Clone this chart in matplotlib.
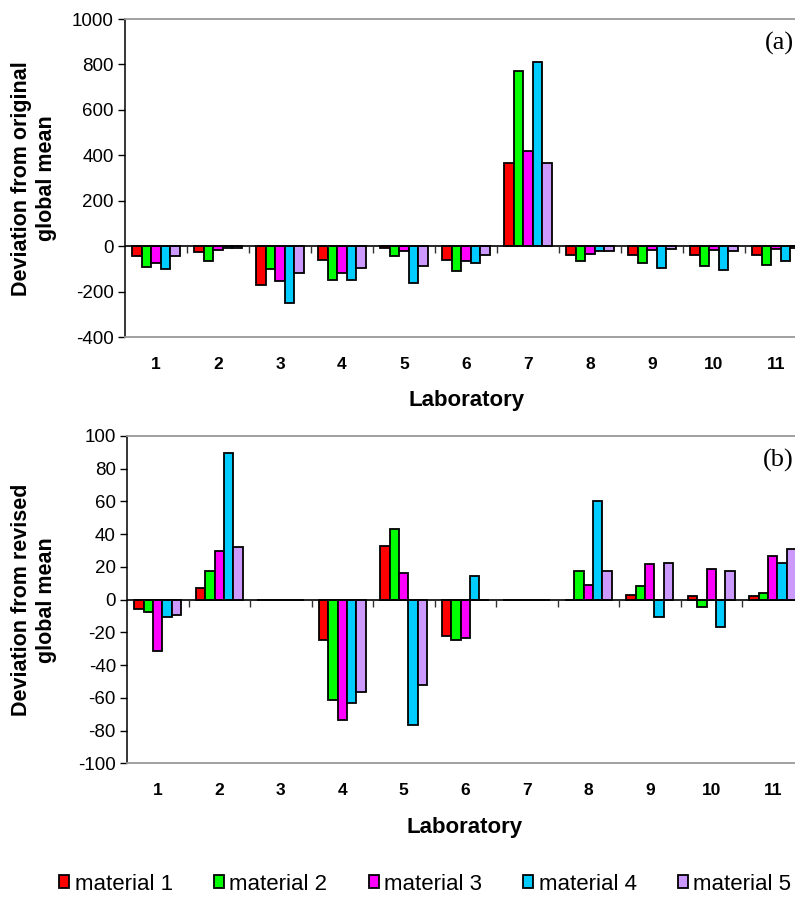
import numpy as np
import matplotlib
matplotlib.use("Agg")
import matplotlib.pyplot as plt

plt.rcParams['font.family'] = ['Liberation Sans', 'DejaVu Sans']
plt.rcParams['axes.unicode_minus'] = False

labs = [1, 2, 3, 4, 5, 6, 7, 8, 9, 10, 11]
materials = ["material 1", "material 2", "material 3", "material 4", "material 5"]
colors = ["#FF0000", "#00FF00", "#FF00FF", "#00CCFF", "#CC99FF"]

# (a) deviation from original global mean
orig_m1 = [-44, -26, -170, -59, -6, -59, 365, -37, -37, -37, -37]
orig_m2 = [-90, -65, -100, -146, -41, -110, 770, -66, -73, -88, -80]
orig_m3 = [-72, -15, -154, -117, -22, -66, 418, -32, -17, -17, -13]
orig_m4 = [-98, -6, -250, -146, -161, -73, 810, -22, -95, -102, -63]
orig_m5 = [-44, -6, -117, -95, -88, -37, 365, -19, -11, -22, -6]

# (b) deviation from revised global mean
rev_m1 = [-5.5, 6.9, 0, -24.8, 32.8, -22.0, 0, 0, 3.1, 2.0, 2.0]
rev_m2 = [-7.3, 17.3, 0, -61.5, 43.4, -24.8, 0, 17.5, 8.4, -4.5, 4.3]
rev_m3 = [-31.4, 29.7, 0, -73.7, 16.3, -23.2, 0, 9.2, 21.8, 18.5, 26.9]
rev_m4 = [-10.6, 89.8, 0, -63.3, -76.8, 14.5, 0, 60.0, -10.6, -16.7, 22.6]
rev_m5 = [-9.6, 32.2, 0, -56.2, -51.9, 0, 0, 17.5, 22.6, 17.3, 31.0]

orig = [orig_m1, orig_m2, orig_m3, orig_m4, orig_m5]
rev = [rev_m1, rev_m2, rev_m3, rev_m4, rev_m5]

W, H = 795, 898
fig = plt.figure(figsize=(W / 100, H / 100), dpi=100)

def px_axes(l, t, r, b):
    return fig.add_axes([l / W, 1 - b / H, (r - l) / W, (b - t) / H])

ax1 = px_axes(125, 19, 807, 337.3)
ax2 = px_axes(127, 436, 803.5, 763.3)

bw = 0.153
x = np.array(labs, dtype=float)

def draw(ax, data, ylim, yticks, ylabel, tag):
    handles = []
    for j, (vals, c, name) in enumerate(zip(data, colors, materials)):
        h = ax.bar(x + (j - 2) * bw, vals, width=bw, color=c, edgecolor='black',
                   linewidth=1.3, label=name, zorder=3)
        handles.append(h)
    ax.set_xlim(0.5, 11.5)
    ax.set_ylim(*ylim)
    ax.set_yticks(yticks)
    ax.tick_params(axis='y', direction='out', length=5, width=1, labelsize=13.5, pad=3)
    ax.set_xticks(x)
    ax.set_xticklabels([str(v) for v in labs], fontweight='bold', fontsize=12.5)
    ax.tick_params(axis='x', length=0, pad=14)
    ax.axhline(0, color='black', lw=1.2, zorder=4)
    # category boundary ticks on the zero line
    bounds = np.arange(1.5, len(labs), 1.0)
    ax.plot(bounds, np.zeros_like(bounds), ls='none', marker=3, ms=5,
            mew=1, color='#333333', zorder=4, clip_on=False)
    for s in ['top', 'bottom', 'right']:
        ax.spines[s].set_color('#999999')
        ax.spines[s].set_linewidth(1.3)
    ax.spines['left'].set_color('black')
    ax.spines['left'].set_linewidth(1.1)
    ax.set_ylabel(ylabel, fontweight='bold', fontsize=15.5, va='center', linespacing=1.25)
    ax.set_xlabel("Laboratory", fontweight='bold', fontsize=16, va='center')
    ax.text(0.98, 0.93, tag, transform=ax.transAxes, ha='right', va='center',
            family='Liberation Serif', fontsize=19)
    return handles

h = draw(ax1, orig, (-400, 1000), range(-400, 1001, 200),
         "Deviation from original\nglobal mean", "(a)")
draw(ax2, rev, (-100, 100), range(-100, 101, 20),
     "Deviation from revised\nglobal mean", "(b)")

ax1.yaxis.set_label_coords((34 - 125) / 682, 0.5)
ax1.xaxis.set_label_coords((467 - 125) / 682, -(400 - 337.3) / 318.3)
ax2.yaxis.set_label_coords((34 - 127) / 676.5, 0.5)
ax2.xaxis.set_label_coords((465 - 127) / 676.5, -(828 - 763.3) / 327.3)
ax1.texts[-1].set_position(((794 - 125) / 682, 1 - (43 - 19) / 318.3))
ax2.texts[-1].set_position(((794 - 127) / 676.5, 1 - (460 - 436) / 327.3))

fig.legend(handles=h, labels=materials, loc='center', bbox_to_anchor=(0.535, 1 - 884 / H),
           ncol=5, frameon=False, fontsize=16, handlelength=0.45, handleheight=0.55,
           handletextpad=0.25, columnspacing=1.85)

fig.savefig("out.png", dpi=100)
